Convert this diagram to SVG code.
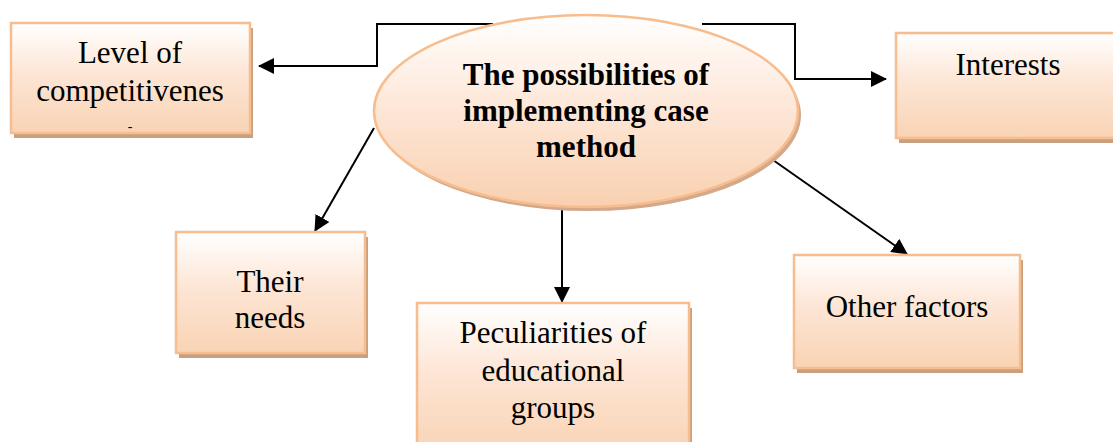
<svg xmlns="http://www.w3.org/2000/svg" width="1113" height="442" viewBox="0 0 1113 442">
  <style>
    .box { fill: url(#boxFill); stroke: #f7bd8e; stroke-width: 2.5; }
    .shadow { fill: #c9a07f; }
    .lbl { font-family: "Liberation Serif", "Times New Roman", serif; font-size: 31px; fill: #000; text-anchor: middle; }
    .title { font-weight: bold; }
    .conn { fill: none; stroke: #000; stroke-width: 2; }
  </style>
  <defs>
    <linearGradient id="boxFill" x1="0" y1="0" x2="0" y2="1">
      <stop offset="0" stop-color="#ffffff"/>
      <stop offset="0.45" stop-color="#fde6d6"/>
      <stop offset="1" stop-color="#f9d3b4"/>
    </linearGradient>
    <linearGradient id="ovalFill" x1="0" y1="0" x2="0" y2="1">
      <stop offset="0" stop-color="#ffffff"/>
      <stop offset="0.5" stop-color="#fde6d6"/>
      <stop offset="1" stop-color="#f9d0b0"/>
    </linearGradient>
    <marker id="arrow" markerUnits="userSpaceOnUse" markerWidth="16" markerHeight="16" viewBox="0 0 16 16" refX="15" refY="8" orient="auto">
      <path d="M0,0 L16,8 L0,16 Z" fill="#000"/>
    </marker>
  </defs>

  <!-- connectors -->
  <g id="connectors">
    <path class="conn" d="M493,24 H377 V66 H259" marker-end="url(#arrow)"/>
    <path class="conn" d="M702,24 H795 V79 H886" marker-end="url(#arrow)"/>
    <path class="conn" d="M374,128 L315,231" marker-end="url(#arrow)"/>
    <path class="conn" d="M562,208 L562,302" marker-end="url(#arrow)"/>
    <path class="conn" d="M773,160 L907,254" marker-end="url(#arrow)"/>
  </g>

  <!-- central idea -->
  <g id="center">
    <ellipse cx="589" cy="115" rx="212" ry="96" fill="#d4a88a"/>
    <ellipse cx="586" cy="111" rx="212" ry="96" fill="url(#ovalFill)" stroke="#f7bd8e" stroke-width="2.5"/>
    <text class="lbl title" x="586" y="85">The possibilities of</text>
    <text class="lbl title" x="586" y="121">implementing case</text>
    <text class="lbl title" x="586" y="157">method</text>
  </g>

  <g id="competitiveness">
    <rect class="shadow" x="14" y="28" width="239" height="110"/>
    <rect class="box" x="11" y="23" width="239" height="110"/>
    <text class="lbl" x="130" y="63">Level of</text>
    <text class="lbl" x="130" y="101">competitivenes</text>
    <text class="lbl" x="130" y="131" style="font-size:14px">-</text>
  </g>

  <g id="interests">
    <rect class="shadow" x="899" y="38" width="222" height="105"/>
    <rect class="box" x="896" y="33" width="222" height="105"/>
    <text class="lbl" x="1008" y="75">Interests</text>
  </g>

  <g id="needs">
    <rect class="shadow" x="179" y="237" width="189" height="121"/>
    <rect class="box" x="176" y="232" width="189" height="121"/>
    <text class="lbl" x="270" y="292">Their</text>
    <text class="lbl" x="270" y="328">needs</text>
  </g>

  <g id="groups">
    <rect class="shadow" x="420" y="308" width="272" height="150"/>
    <rect class="box" x="417" y="303" width="272" height="150"/>
    <text class="lbl" x="553" y="343">Peculiarities of</text>
    <text class="lbl" x="553" y="381">educational</text>
    <text class="lbl" x="553" y="418">groups</text>
  </g>

  <g id="factors">
    <rect class="shadow" x="797" y="260" width="226" height="113"/>
    <rect class="box" x="794" y="255" width="226" height="113"/>
    <text class="lbl" x="907" y="317">Other factors</text>
  </g>
</svg>
